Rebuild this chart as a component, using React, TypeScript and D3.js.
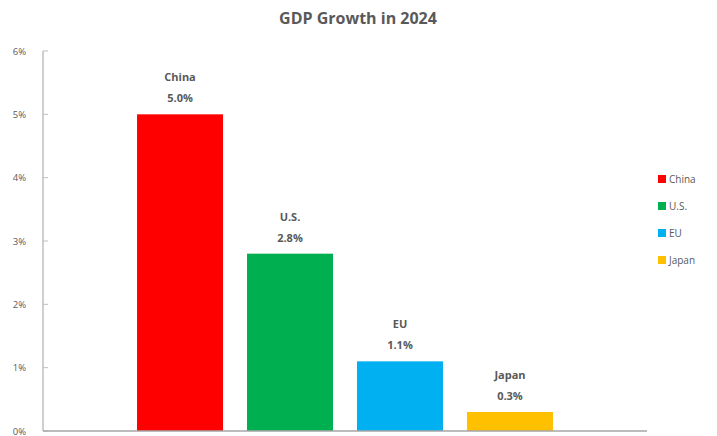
import React from "react";
import * as d3 from "d3";

const categories = ["China", "U.S.", "EU", "Japan"];
const values = [5.0, 2.8, 1.1, 0.3];
const colors = ["#FF0000", "#00B050", "#00B0F0", "#FFC000"];
const yTicks = [0, 1, 2, 3, 4, 5, 6];
const title = "GDP Growth in 2024";

export default function App() {
  const W = 717, H = 436;
  const x0 = 43, x1 = 647, yTop = 51, yBot = 431;
  const x = d3.scaleBand<string>().domain(categories).range([x0, x1]).paddingInner(0.218).paddingOuter(0.855);
  const y = d3.scaleLinear().domain([0, 6]).range([yBot, yTop]);
  const font = "'Open Sans', 'Noto Sans', sans-serif";
  const grey = "#595959";
  return (
    <svg width={W} height={H} style={{ position: "absolute", left: 0, top: 0, background: "#fff" }} fontFamily={font}>
      <text x={358} y={24} textAnchor="middle" fontSize={16} fontWeight="bold" fill={grey}>{title}</text>
      {yTicks.map((t) => (
        <g key={t}>
          <line x1={x0} x2={x0 + 5} y1={y(t)} y2={y(t)} stroke="#BFBFBF" strokeWidth={1} />
          <text x={26} y={Math.min(y(t) + 3.5, H - 1)} textAnchor="end" fontSize={9.5} fill={grey}>{t}%</text>
        </g>
      ))}
      {categories.map((c, i) => {
        const bx = x(c)!;
        const bw = x.bandwidth();
        const top = y(values[i]);
        const cx = bx + bw / 2;
        return (
          <g key={c}>
            <rect x={bx} y={top} width={bw} height={yBot - top} fill={colors[i]} />
            <text x={cx} y={top - 33} textAnchor="middle" fontSize={11} fontWeight="bold" fill={grey}>{c}</text>
            <text x={cx} y={top - 12} textAnchor="middle" fontSize={11} fontWeight="bold" fill={grey}>{values[i].toFixed(1)}%</text>
          </g>
        );
      })}
      <line x1={x0} x2={x0} y1={yTop} y2={yBot} stroke="#BFBFBF" strokeWidth={1.5} />
      <line x1={x0} x2={x1} y1={yBot} y2={yBot} stroke="#A6A6A6" strokeWidth={1.5} />
      {categories.map((c, i) => {
        const ly = 179 + i * 27;
        return (
          <g key={"lg" + c}>
            <rect x={658} y={ly - 4} width={8} height={8} fill={colors[i]} />
            <text x={669} y={ly + 4} fontSize={10} fill={grey}>{c}</text>
          </g>
        );
      })}
    </svg>
  );
}
